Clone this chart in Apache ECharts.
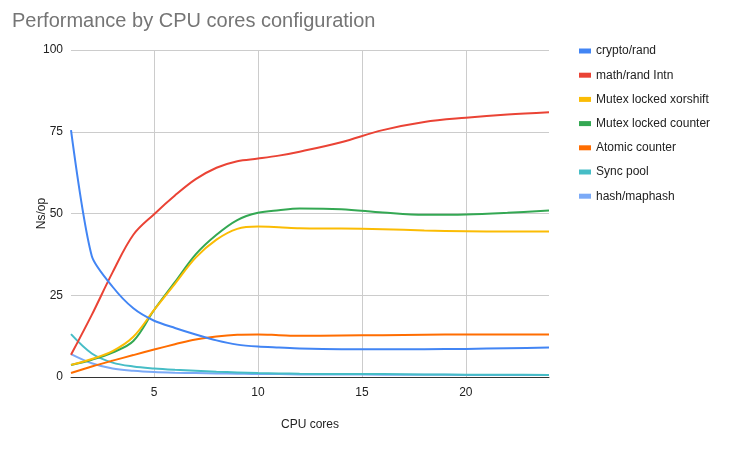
<!DOCTYPE html>
<html><head><meta charset="utf-8">
<script src="https://cdn.jsdelivr.net/npm/echarts@6/dist/echarts.min.js"></script>
<style>html,body{margin:0;padding:0;background:#fff}#c{width:731px;height:452px}</style>
</head><body><div id="c"></div>
<script>
const cores = [1,2,3,4,5,6,7,8,9,10,11,12,14,16,18,20,22,24];
const cryptoRand   = [75.5,37,27.6,21,17.2,15,13,11.2,9.9,9.3,9,8.7,8.5,8.5,8.5,8.6,8.8,9];
const mathRandIntn = [6.8,19,32,43.5,49.8,55.5,60.5,64,66,66.8,67.7,68.9,71.8,75.5,78,79.3,80.3,81];
const mutexXorshift= [3.7,5.5,7.9,12.3,20.5,28.5,36.5,42,45.3,46,45.8,45.5,45.4,45.2,44.8,44.6,44.5,44.5];
const mutexCounter = [3.7,5.3,7.5,11,20.5,29,37.5,43.5,48,50.2,51,51.5,51.3,50.3,49.6,49.7,50.2,50.9];
const atomicCounter= [1.2,3.2,5,6.7,8.4,10,11.5,12.4,12.9,13,12.8,12.6,12.7,12.8,12.9,13,13,13];
const syncPool     = [13.1,7.2,4.4,3.2,2.6,2.2,1.9,1.6,1.4,1.2,1.1,1.0,0.9,0.9,0.8,0.7,0.7,0.6];
const hashMaphash  = [7,4.2,2.6,1.9,1.5,1.3,1.2,1.1,1.0,0.9,0.9,0.8,0.8,0.7,0.7,0.6,0.6,0.6];
const seriesNames = ['crypto/rand','math/rand Intn','Mutex locked xorshift','Mutex locked counter','Atomic counter','Sync pool','hash/maphash'];
const seriesData = [cryptoRand, mathRandIntn, mutexXorshift, mutexCounter, atomicCounter, syncPool, hashMaphash];
const colors = ['#4285F4','#EA4335','#FBBC04','#34A853','#FF6D01','#46BDC6','#7BAAF7'];
const smoothing = [0.25,0.35,0.35,0.35,0.35,0.35,0.35];
const xTicks = [5,10,15,20];

const chart = echarts.init(document.getElementById('c'), null, {renderer:'canvas'});
const font = 'Arial, "Liberation Sans", sans-serif';
chart.setOption({
  animation:false,
  color: colors,
  textStyle:{fontFamily:font},
  title:{text:'Performance by CPU cores configuration', left:7, top:6,
    textStyle:{fontSize:20, fontWeight:'normal', color:'#757575', fontFamily:font}},
  legend:{orient:'vertical', left:574, top:40, itemWidth:12, itemHeight:5, itemGap:12.2,
    icon:'rect', textStyle:{fontSize:12, color:'#222', fontFamily:font},
    data: seriesNames},
  grid:{left:71, right:182, top:50, bottom:75, containLabel:false},
  xAxis:{type:'value', min:1, max:24,
    name:'CPU cores', nameLocation:'middle', nameGap:42,
    nameTextStyle:{fontSize:12, color:'#222', fontFamily:font},
    axisLine:{show:true, onZero:false, lineStyle:{color:'#333', width:1}},
    axisTick:{show:false, customValues:xTicks},
    axisLabel:{customValues:xTicks, fontSize:12, color:'#222', margin:10, fontFamily:font},
    splitLine:{show:true, lineStyle:{color:'#ccc', width:1}}
  },
  yAxis:{type:'value', min:0, max:100, interval:25,
    name:'Ns/op', nameLocation:'middle', nameGap:23, nameMoveOverlap:false,
    nameTextStyle:{fontSize:12, color:'#222', fontFamily:font},
    axisLine:{show:false}, axisTick:{show:false},
    axisLabel:{fontSize:12, color:'#222', margin:8, fontFamily:font},
    splitLine:{show:true, lineStyle:{color:'#ccc', width:1}}
  },
  series: seriesNames.map((n,i)=>({
    name:n, type:'line', smooth:smoothing[i], showSymbol:false, symbol:'none',
    lineStyle:{width:2, color:colors[i]}, itemStyle:{color:colors[i]},
    data: cores.map((c,j)=>[c, seriesData[i][j]])
  })).reverse()
});
</script></body></html>
